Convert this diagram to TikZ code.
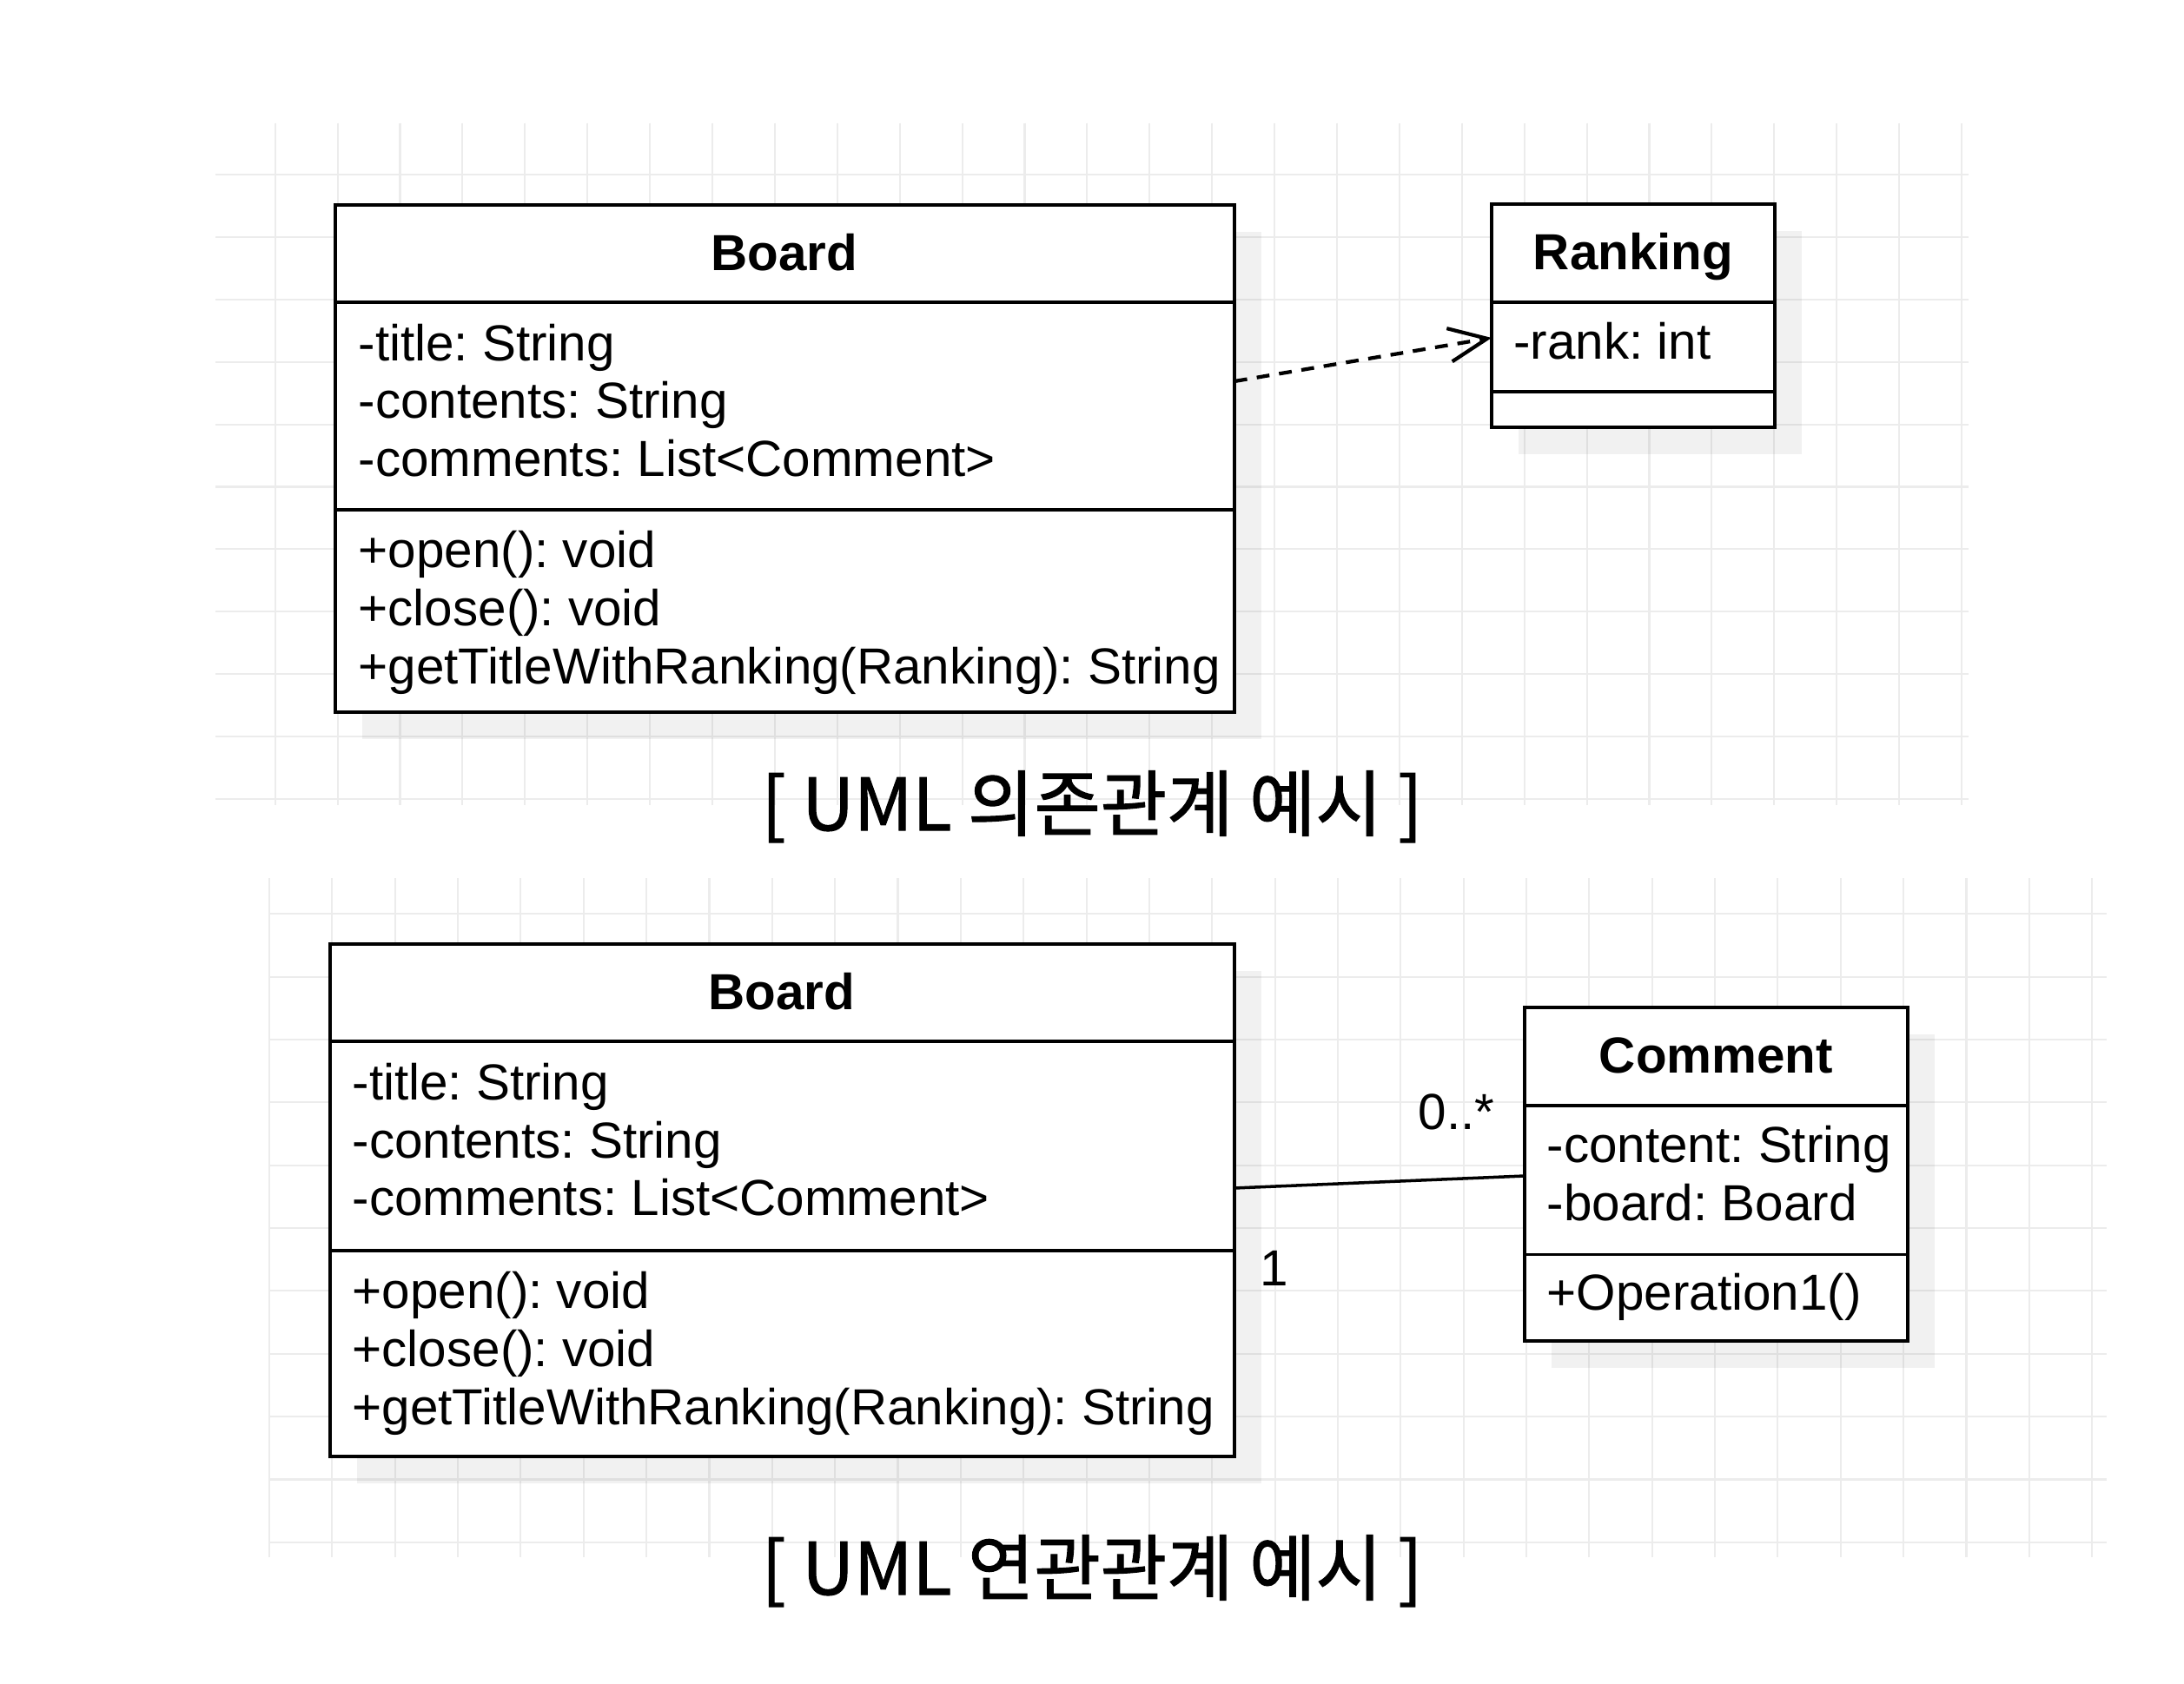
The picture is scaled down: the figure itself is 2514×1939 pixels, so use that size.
\documentclass[tikz,border=0pt]{standalone}
\usepackage{fontspec}
\setmainfont{Liberation Sans}
\newfontfamily\krfont[FakeBold=1.3]{Noto Sans CJK KR}
\usetikzlibrary{arrows.meta,shadows}
\definecolor{gridc}{RGB}{236,236,236}
\frenchspacing
\begin{document}
\frenchspacing
\begin{tikzpicture}[x=0.01cm, y=-0.01cm,
  gridl/.style={draw=gridc, line width=0.6pt},
  umlbox/.style={draw=black, fill=white, line width=1.1pt, inner sep=0pt, outer sep=0pt, anchor=north west,
    drop shadow={shadow xshift=0.31cm, shadow yshift=-0.31cm, fill=black, opacity=0.055}},
  divl/.style={draw=black, line width=1.1pt},
  txt/.style={inner sep=0pt, anchor=base west, font=\fontsize{16.6pt}{19pt}\selectfont},
  hdr/.style={inner sep=0pt, anchor=base, font=\fontsize{16.6pt}{19pt}\selectfont\bfseries},
  capt/.style={inner sep=0pt, anchor=base, font=\krfont\fontsize{23.6pt}{28pt}\selectfont},
  dep/.style={draw=black, line width=1.2pt, dash pattern=on 4.2pt off 3.2pt, -{Straight Barb[length=12.5pt,width=11pt]}},
  assoc/.style={draw=black, line width=1pt},
]
\useasboundingbox (0,0) rectangle (2514,1939);
\fill[white] (0,0) rectangle (2514,1939);

% ---- top grid
\foreach \i in {0,...,27} \draw[gridl] ({316.7+71.9*\i},141.7) -- ({316.7+71.9*\i},927);
\foreach \j in {0,...,10} \draw[gridl] (248,{201+71.9*\j}) -- (2265.7,{201+71.9*\j});
% ---- bottom grid
\foreach \i in {0,...,29} \draw[gridl] ({310+72.35*\i},1011) -- ({310+72.35*\i},1792.7);
\foreach \j in {0,...,10} \draw[gridl] (310,{1052.3+72.35*\j}) -- (2425,{1052.3+72.35*\j});

% ================= top diagram
\node[umlbox, minimum width=10.34cm, minimum height=5.84cm] (b1) at (386,236) {};
\draw[divl] (386,348) -- (1420,348);
\draw[divl] (386,587) -- (1420,587);
\node[hdr] (b1h) at (903,311.7) {Board};
\node[txt] (b1a1) at (412,415) {-title: String};
\node[txt] (b1a2) at (412,481.7) {-contents: String};
\node[txt] (b1a3) at (412,548.4) {-comments: List<Comment>};
\node[txt] (b1m1) at (412,653) {+open(): void};
\node[txt] (b1m2) at (412,720) {+close(): void};
\node[txt] (b1m3) at (412,787) {+getTitleWithRanking(Ranking): String};

\node[umlbox, minimum width=3.26cm, minimum height=2.57cm] (r1) at (1717,235) {};
\draw[divl] (1717,347.7) -- (2043,347.7);
\draw[divl] (1717,451) -- (2043,451);
\node[hdr] (r1h) at (1880,310) {Ranking};
\node[txt] (r1a1) at (1741.5,413.3) {-rank: int};

\coordinate (depA) at (1421,439);
\coordinate (depB) at (1717,389);
\draw[dep] (depA) -- (depB);

\node[capt] (cap1) at (1257,956) {[ UML 의존관계 예시 ]};

% ================= bottom diagram
\node[umlbox, minimum width=10.405cm, minimum height=5.897cm] (b2) at (380,1087) {};
\draw[divl] (380,1199.3) -- (1420.5,1199.3);
\draw[divl] (380,1440) -- (1420.5,1440);
\node[hdr] (b2h) at (900,1162.7) {Board};
\node[txt] (b2a1) at (405,1266.3) {-title: String};
\node[txt] (b2a2) at (405,1333) {-contents: String};
\node[txt] (b2a3) at (405,1399.7) {-comments: List<Comment>};
\node[txt] (b2m1) at (405,1506) {+open(): void};
\node[txt] (b2m2) at (405,1573) {+close(): void};
\node[txt] (b2m3) at (405,1640) {+getTitleWithRanking(Ranking): String};

\node[umlbox, minimum width=4.41cm, minimum height=3.84cm] (c1) at (1755,1160) {};
\draw[divl] (1755,1273) -- (2196,1273);
\draw[divl] (1755,1444.5) -- (2196,1444.5);
\node[hdr] (c1h) at (1975.5,1235) {Comment};
\node[txt] (c1a1) at (1780,1338.3) {-content: String};
\node[txt] (c1a2) at (1780,1405) {-board: Board};
\node[txt] (c1m1) at (1780,1508.3) {+Operation1()};

\coordinate (asA) at (1420.5,1368);
\coordinate (asB) at (1755,1354);
\draw[assoc] (asA) -- (asB);
\node[txt] (lblMany) at (1632,1300) {0..*};
\node[txt] (lblOne) at (1450,1480) {1};

\node[capt] (cap2) at (1257,1836) {[ UML 연관관계 예시 ]};
\end{tikzpicture}
\end{document}
